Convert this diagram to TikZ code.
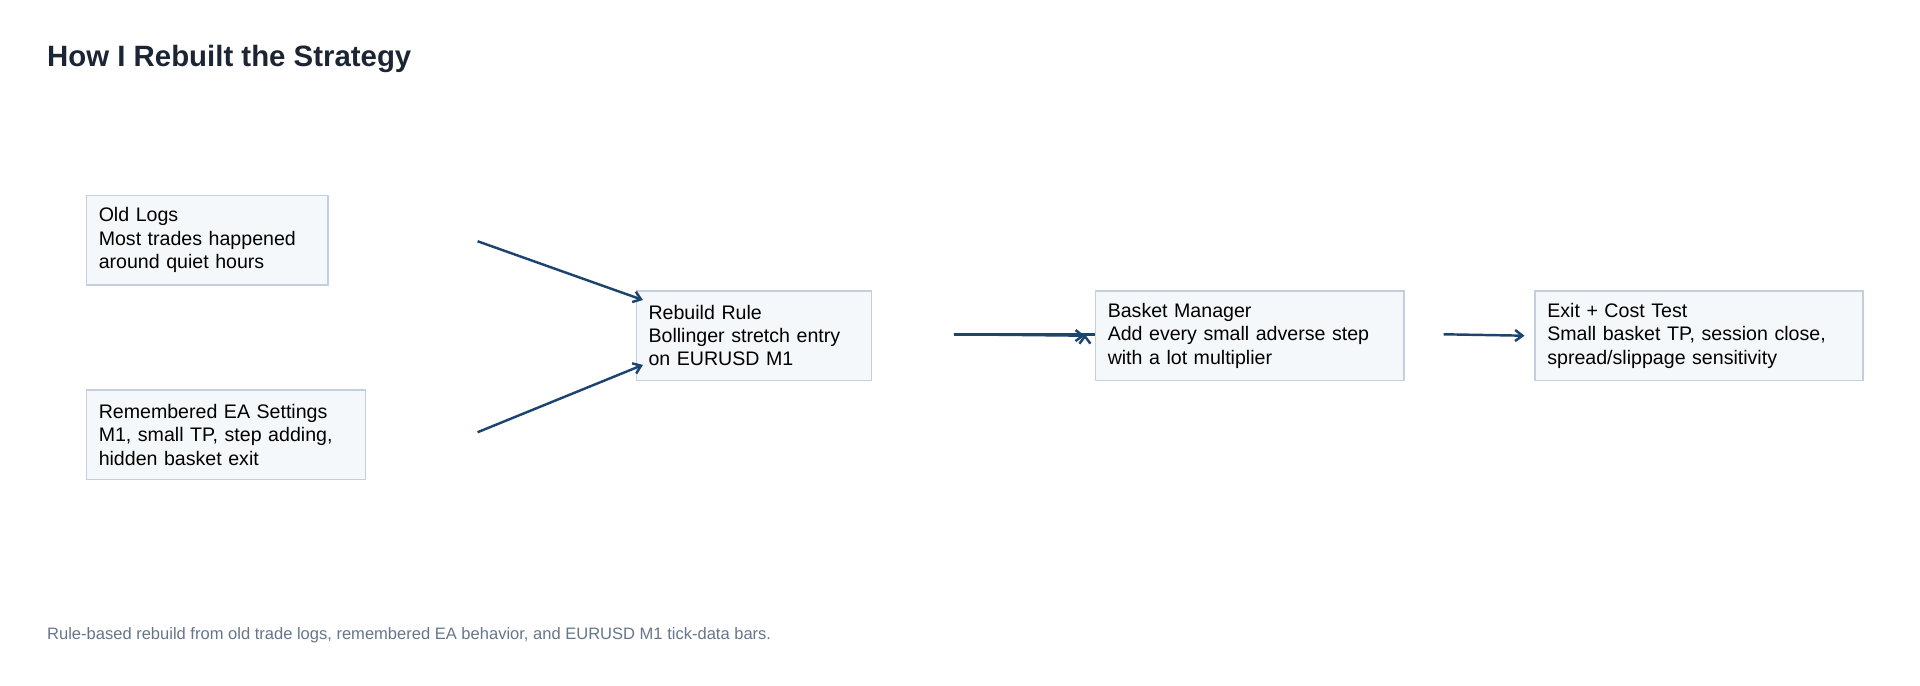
\documentclass[tikz,border=0pt]{standalone}
\usepackage{fontspec}
\setmainfont{Liberation Sans}
\usetikzlibrary{arrows.meta}
\definecolor{boxfill}{HTML}{F5F8FB}
\definecolor{boxline}{HTML}{C3CFDC}
\definecolor{arrowc}{HTML}{1B4470}
\definecolor{titlec}{HTML}{1C2533}
\definecolor{footc}{HTML}{66768A}
\begin{document}
\begin{tikzpicture}[x=1pt,y=-1pt,
 box/.style={draw=boxline,line width=1.3pt,fill=boxfill,anchor=north west,align=left,
   inner xsep=10pt,inner ysep=0pt,minimum height=73pt,font=\fontsize{16}{19}\selectfont,text=black},
 conn/.style={draw=arrowc,line width=2pt,-{Straight Barb[length=6pt,width=9pt]}}]
\useasboundingbox (0,0) rectangle (1568,560);
\node[anchor=base west,font=\bfseries\fontsize{24}{28}\selectfont,text=titlec] (title) at (35,54) {How I Rebuilt the Strategy};
\node[box,text width=177pt] (logs) at (70,159) {Old Logs\\Most trades happened\\around quiet hours};
\node[box,text width=208pt] (ea) at (70,318) {Remembered EA Settings\\M1, small TP, step adding,\\hidden basket exit};
\node[box,text width=172pt] (rule) at (519,237) {Rebuild Rule\\Bollinger stretch entry\\on EURUSD M1};
\node[box,text width=232pt] (basket) at (894,237) {Basket Manager\\Add every small adverse step\\with a lot multiplier};
\node[box,text width=248pt] (exit) at (1253,237) {Exit + Cost Test\\Small basket TP, session close,\\spread/slippage sensitivity};
\coordinate (a1) at (390,197);
\coordinate (a2) at (390,353);
\coordinate (a3) at (779,273);
\coordinate (a4) at (1179,273);
\draw[conn] (a1) -- (525,245);
\draw[conn] (a2) -- (525,298);
\draw[conn] (a3) -- (basket.west|-a3) ++(-8,0);
\draw[conn] (a3) -- ([xshift=-8pt]basket.west);
\draw[conn] (a4) -- ([xshift=-8pt]exit.west);
\node[anchor=base west,font=\fontsize{13.5}{16}\selectfont,text=footc] (foot) at (35,522) {Rule-based rebuild from old trade logs, remembered EA behavior, and EURUSD M1 tick-data bars.};
\end{tikzpicture}
\end{document}
